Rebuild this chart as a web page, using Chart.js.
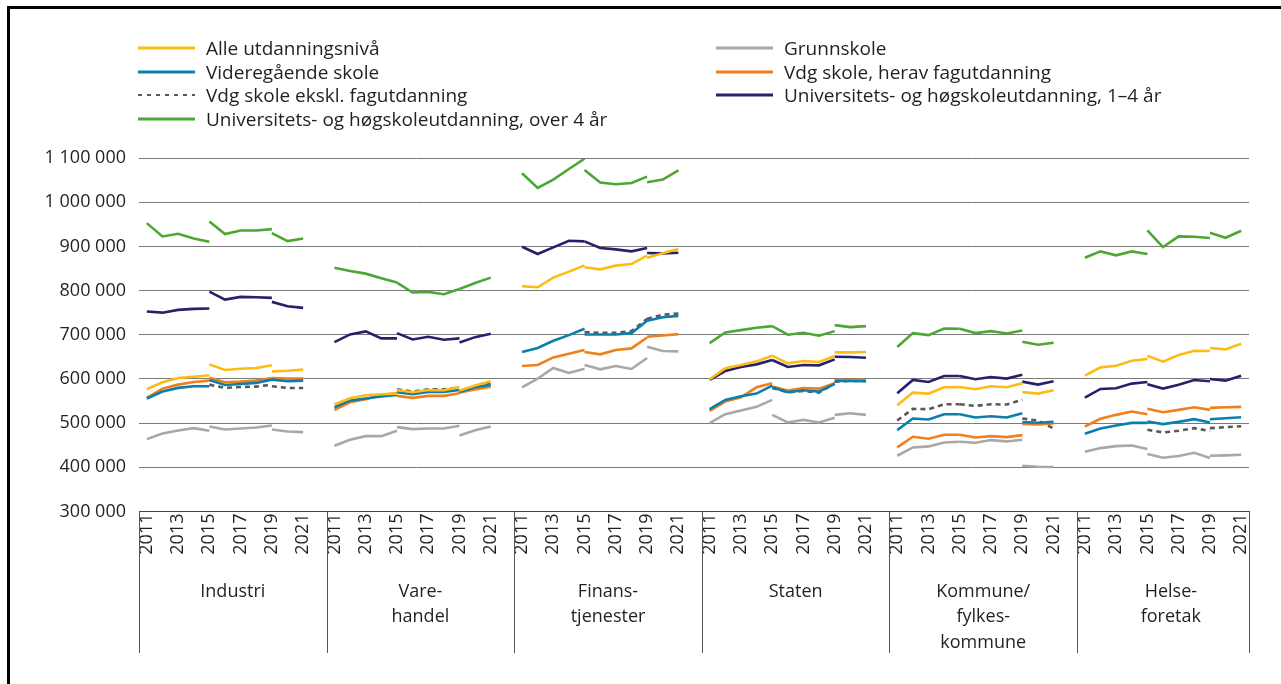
<!DOCTYPE html>
<html><head><meta charset="utf-8">
<script src="https://cdn.jsdelivr.net/npm/chart.js@4"></script>
<style>
html,body{margin:0;padding:0;background:#fff;}
#wrap{position:relative;width:1281px;height:684px;overflow:hidden;background:#fff;}
#frame{position:absolute;left:7px;top:6px;width:1400px;height:800px;border-left:3px solid #000;border-top:3px solid #000;pointer-events:none;}
#c{position:absolute;left:0;top:0;}
#legend{position:absolute;left:0;top:0;font-family:'Open Sans',sans-serif;font-size:19px;color:#231f20;}
.item{position:absolute;display:flex;align-items:center;height:24px;white-space:nowrap;}
.item svg{margin-right:11px;display:block;}
</style></head>
<body>
<div id="wrap">
<canvas id="c" width="1281" height="684"></canvas>
<div id="legend"></div>
<div id="frame"></div>
</div>
<script>
// ---------- DATA ----------
const groupNames = [['Industri'], ['Vare-', 'handel'], ['Finans-', 'tjenester'], ['Staten'], ['Kommune/', 'fylkes-', 'kommune'], ['Helse-', 'foretak']];
const years = [2011, 2012, 2013, 2014, 2015, 2016, 2017, 2018, 2019, 2020, 2021];
const yearTickLabels = ['2011', '2013', '2015', '2017', '2019', '2021'];
// each group: segment 2011–2015 (5), segment 2015–2019 (5), segment 2019–2021 (3)
const segmentYears = [[2011, 2012, 2013, 2014, 2015], [2015, 2016, 2017, 2018, 2019], [2019, 2020, 2021]];

const seriesNames = ['Alle utdanningsnivå', 'Grunnskole', 'Videregående skole', 'Vdg skole, herav fagutdanning', 'Vdg skole ekskl. fagutdanning', 'Universitets- og høgskoleutdanning, 1–4 år', 'Universitets- og høgskoleutdanning, over 4 år'];

const alle = [
  [576600, 592400, 602200, 605000, 608200,  633000, 620200, 623200, 624700, 630800,  617200, 618700, 621000],
  [542000, 556300, 563100, 565400, 566800,  575100, 569800, 575100, 574400, 581900,  573600, 584900, 594700],
  [809700, 807500, 829300, 842800, 857100,  852600, 848100, 856400, 860100, 878900,  874400, 884200, 894000],
  [599200, 624000, 631500, 639800, 652600,  652600, 635300, 640500, 638300, 651800,  660100, 660100, 660800],
  [540500, 569100, 566800, 581100, 581900,  581900, 576600, 583400, 581100, 590200,  570600, 566800, 574400],
  [607400, 626200, 630000, 641300, 645100,  652600, 639000, 654100, 663900, 663100,  669900, 666900, 679600]
];
const grunnskole = [
  [463800, 476600, 483400, 488600, 482600,  492400, 485600, 487900, 490100, 494600,  485600, 481100, 479600],
  [448800, 462300, 470600, 470600, 482600,  490900, 486400, 487900, 487900, 493900,  472100, 484100, 492400],
  [581100, 600700, 624800, 613500, 623300,  631500, 621700, 629200, 622500, 647300,  672900, 663100, 662300],
  [499900, 520200, 528500, 536800, 552500,  518700, 501400, 507400, 501400, 511900,  518700, 522500, 518700],
  [426200, 445000, 447300, 456300, 457800,  457800, 455600, 461600, 458600, 462300,  403700, 401400, 400600],
  [435200, 443500, 448000, 449500, 441300,  430000, 421700, 425500, 433000, 421000,  426200, 427000, 428500]
];
const videregaende = [
  [555600, 571400, 579700, 583400, 583400,  597700, 586400, 588700, 591000, 598400,  598400, 594700, 596200],
  [536000, 551000, 555600, 560100, 563900,  569800, 565400, 570600, 570600, 575100,  570600, 581100, 587100],
  [660800, 669900, 686400, 699200, 713500,  700700, 700700, 700700, 703700, 731500,  731500, 739800, 742800],
  [531500, 552500, 560900, 566800, 584900,  581100, 569800, 574400, 571400, 588700,  595400, 595400, 594700],
  [484100, 510400, 508200, 520200, 520200,  520200, 512700, 515700, 512700, 522500,  502200, 500700, 502900],
  [475800, 487900, 494600, 500600, 500600,  503700, 497700, 502900, 508900, 501400,  508900, 511200, 513400]
];
const fagutdanning = [
  [557100, 578100, 587100, 593200, 596200,  602900, 592400, 593900, 596200, 602200,  602200, 600700, 600700],
  [530000, 547300, 554100, 563900, 567600,  561600, 557100, 561600, 561600, 567600,  569100, 575900, 582600],
  [629200, 631500, 648800, 657100, 665400,  660800, 655600, 665400, 669100, 693900,  695400, 698400, 701400],
  [527700, 548800, 558600, 581100, 590200,  582600, 573600, 579600, 578100, 590200,  597700, 597700, 597700],
  [445000, 469100, 464600, 473600, 473600,  473600, 467600, 470600, 468400, 472800,  498400, 496900, 499200],
  [492400, 509700, 518700, 526200, 520200,  532300, 524800, 530000, 536000, 530000,  534500, 536000, 536800]
];
const ekskFag = [
  [null, null, null, null, null,  587100, 579600, 581900, 582600, 587100,  583400, 579600, 579600],
  [null, null, null, null, null,  576600, 571400, 576600, 576600, 580400,  569800, 581100, 590200],
  [null, null, null, null, null,  706000, 704500, 704500, 708200, 736000,  736000, 745100, 748100],
  [null, null, null, null, null,  579600, 569800, 572900, 569100, 590200,  593900, 595400, 595400],
  [505900, 532300, 531500, 542800, 542800,  542800, 539000, 542800, 542000, 553300,  510400, 505900, 487900],
  [null, null, null, null, null,  484900, 478900, 482600, 488600, 481900,  488600, 490900, 493100]
];
const uh14 = [
  [752600, 750000, 756300, 758600, 759300,  797700, 779600, 785600, 785000, 783400,  774400, 764600, 760800],
  [683400, 700700, 707500, 691700, 691700,  703700, 689400, 695400, 688700, 691700,  682600, 694600, 702200],
  [899200, 882700, 897700, 912800, 911300,  911300, 896200, 893200, 888700, 896200,  884900, 884200, 885700],
  [597700, 617900, 626900, 633000, 642800,  642800, 627000, 631500, 630800, 644300,  650300, 649600, 648100],
  [567600, 597700, 593200, 606700, 606700,  606700, 599200, 604500, 600700, 609700,  593900, 587100, 594700],
  [557800, 577400, 578900, 589400, 593200,  587900, 578100, 587100, 597700, 594700,  599900, 596200, 607400]
];
const uhOver4 = [
  [952600, 922500, 928500, 918000, 910500,  956400, 927800, 936000, 936000, 939000,  930000, 912000, 918000],
  [851800, 844300, 838300, 827800, 818000,  818000, 795500, 797000, 791700, 803700,  803700, 817300, 829300],
  [1065400, 1032300, 1051100, 1075200, 1098500,  1072900, 1044400, 1040600, 1043600, 1057900,  1045100, 1051100, 1072200],
  [681100, 705200, 710500, 715700, 719500,  719500, 700000, 704500, 697700, 708200,  721800, 717300, 719500],
  [672100, 703700, 699200, 714200, 713500,  713500, 703700, 708200, 702900, 709700,  684100, 677400, 681900],
  [874400, 888700, 879700, 888700, 882700,  936100, 898500, 922500, 921800, 918800,  930800, 919500, 935300]
];

// ---------- STYLE ----------
const seriesStyle = [
  {values: alle, color: '#FDBB13', dash: []},
  {values: grunnskole, color: '#A8A8A8', dash: []},
  {values: videregaende, color: '#0A7FAD', dash: []},
  {values: fagutdanning, color: '#F27E1C', dash: []},
  {values: ekskFag, color: '#595959', dash: [5, 4]},
  {values: uh14, color: '#27206B', dash: []},
  {values: uhOver4, color: '#4CA733', dash: []}
];
const SLOTS = 12; // 11 years + one gap per group
const xOf = (g, yr) => g * SLOTS + years.indexOf(yr);

const datasets = [];
seriesStyle.forEach((s, si) => {
  s.values.forEach((vals, g) => {
    let off = 0;
    segmentYears.forEach(seg => {
      const pts = [];
      seg.forEach((yr, i) => {
        const v = vals[off + i];
        if (v !== null && v !== undefined) pts.push({x: xOf(g, yr), y: v});
      });
      off += seg.length;
      if (pts.length) datasets.push({
        label: seriesNames[si], data: pts, borderColor: s.color, backgroundColor: s.color,
        borderWidth: 2.6, borderDash: s.dash, pointRadius: 0, fill: false, tension: 0, order: si
      });
    });
  });
});

// ---------- LEGEND (HTML) ----------
const legendOrder = [0, 1, 2, 3, 4, 5, 6];
const legendEl = document.getElementById('legend');
legendOrder.forEach((si, k) => {
  const col = k % 2, row = Math.floor(k / 2);
  const it = document.createElement('div');
  it.className = 'item';
  it.style.left = (col === 0 ? 138 : 716) + 'px';
  it.style.top = (36 + row * 23.7) + 'px';
  const s = seriesStyle[si];
  const svgNS = 'http://www.w3.org/2000/svg';
  const svg = document.createElementNS(svgNS, 'svg');
  svg.setAttribute('width', '57'); svg.setAttribute('height', '6');
  const ln = document.createElementNS(svgNS, 'line');
  ln.setAttribute('x1', '0'); ln.setAttribute('x2', '57'); ln.setAttribute('y1', '3'); ln.setAttribute('y2', '3');
  ln.setAttribute('stroke', s.color); ln.setAttribute('stroke-width', s.dash.length ? '2.2' : '3');
  if (s.dash.length) ln.setAttribute('stroke-dasharray', '4,5');
  svg.appendChild(ln);
  it.appendChild(svg);
  const sp = document.createElement('span');
  sp.textContent = seriesNames[si];
  it.appendChild(sp);
  legendEl.appendChild(it);
});

// ---------- CHART ----------
const yearTickValues = [];
const yearTickText = {};
groupNames.forEach((_, g) => yearTickLabels.forEach(l => {
  const v = xOf(g, Number(l)); yearTickValues.push(v); yearTickText[v] = l;
}));
const groupTickValues = groupNames.map((_, g) => g * SLOTS + 5.5);
const XMIN = -0.5, XMAX = (groupNames.length - 1) * SLOTS + years.length - 0.5;
const fmt = v => String(v).replace(/\B(?=(\d{3})+(?!\d))/g, ' ');
const FONT = {family: "'Open Sans', sans-serif", size: 18};
const TXT = '#231f20';

const dividerPlugin = {
  id: 'dividers',
  afterDraw(chart) {
    const {ctx, scales} = chart;
    const x = scales.x;
    const bottom = 653;
    ctx.save();
    ctx.strokeStyle = '#555';
    ctx.lineWidth = 1;
    const pos = groupNames.map((_, g) => g * SLOTS - 0.5).concat([XMAX]);
    pos.forEach(v => {
      const px = Math.round(x.getPixelForValue(v)) + 0.5;
      ctx.beginPath(); ctx.moveTo(px, chart.chartArea.bottom); ctx.lineTo(px, bottom); ctx.stroke();
    });
    ctx.restore();
  }
};

new Chart(document.getElementById('c'), {
  type: 'line',
  data: {datasets},
  plugins: [dividerPlugin],
  options: {
    responsive: false, animation: false, devicePixelRatio: 1,
    layout: {padding: {left: 0, right: 32, top: 158, bottom: 0}},
    plugins: {legend: {display: false}, tooltip: {enabled: false}},
    scales: {
      x: {
        type: 'linear', position: 'bottom', min: XMIN, max: XMAX,
        afterBuildTicks: sc => { sc.ticks = yearTickValues.map(v => ({value: v})); },
        afterFit: sc => { sc.height = 50; },
        ticks: {autoSkip: false, minRotation: 90, maxRotation: 90, padding: 2, font: FONT, color: TXT,
          callback: v => yearTickText[v] || ''},
        grid: {display: false, drawTicks: false},
        border: {display: true, color: '#444', width: 1}
      },
      xg: {
        type: 'linear', position: 'bottom', min: XMIN, max: XMAX,
        afterBuildTicks: sc => { sc.ticks = groupTickValues.map(v => ({value: v})); },
        afterFit: sc => { sc.height = 122.5; },
        ticks: {autoSkip: false, maxRotation: 0, minRotation: 0, padding: 18, font: {...FONT, lineHeight: 1.4}, color: TXT,
          callback: (v, i) => groupNames[i]},
        grid: {display: false, drawTicks: false},
        border: {display: false}
      },
      y: {
        min: 300000, max: 1100000,
        afterFit: sc => { sc.width = 139; },
        ticks: {stepSize: 100000, padding: 13, font: FONT, color: TXT, callback: v => fmt(v)},
        grid: {color: '#7a7a7a', lineWidth: 1, drawTicks: false},
        border: {display: false}
      }
    }
  }
});
</script>
</body></html>
